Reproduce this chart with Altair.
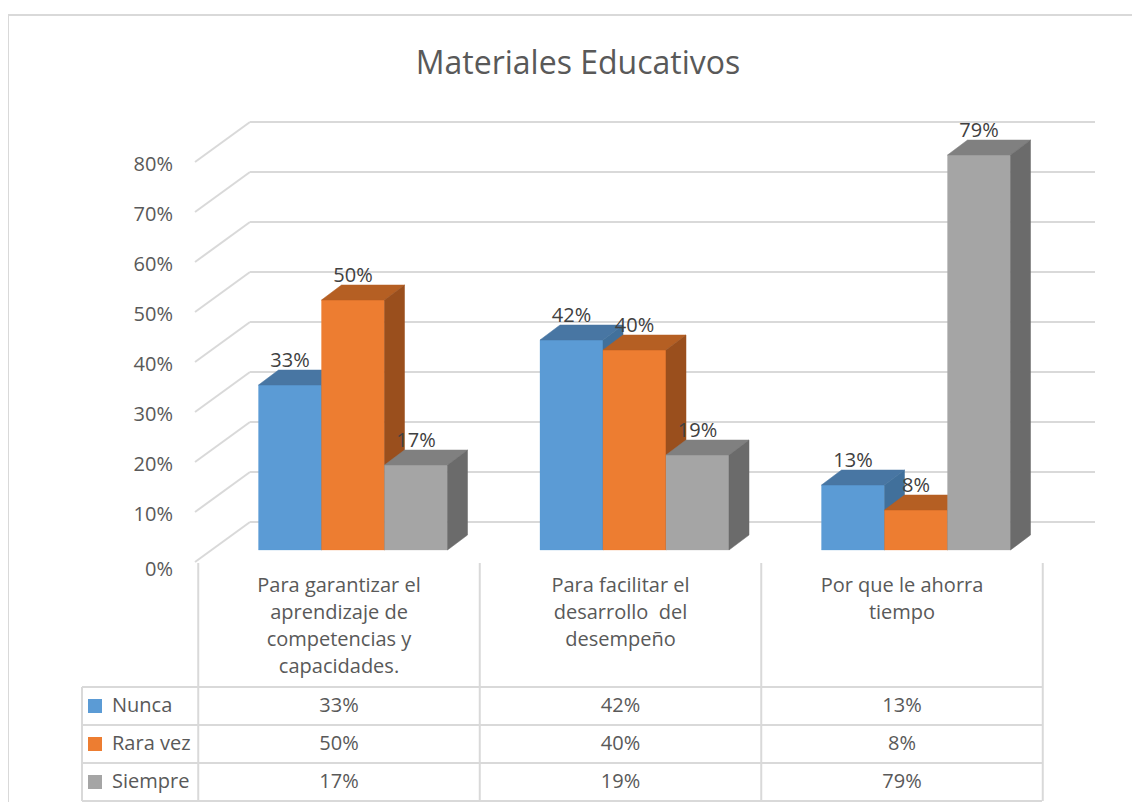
import altair as alt
import pandas as pd

# ---------------- data ----------------
SERIES = ["Nunca", "Rara vez", "Siempre"]
CATEGORIES = [
    "Para garantizar el\naprendizaje de\ncompetencias y\ncapacidades.",
    "Para facilitar el\ndesarrollo\u00a0 del\ndesempeño",
    "Por que le ahorra\ntiempo",
]
NUNCA = [0.33, 0.42, 0.13]
RARA_VEZ = [0.50, 0.40, 0.08]
SIEMPRE = [0.17, 0.19, 0.79]
TICKS = [0.0, 0.1, 0.2, 0.3, 0.4, 0.5, 0.6, 0.7, 0.8]
TITLE = "Materiales Educativos"

VALUES = [NUNCA, RARA_VEZ, SIEMPRE]

# ---------------- styling / geometry ----------------
FRONT = ["#5B9BD5", "#ED7D31", "#A5A5A5"]
TOP = ["#4876A3", "#B55F23", "#808080"]
SIDE = ["#41709B", "#9A4F1D", "#6B6B6B"]
GRID = "#D9D9D9"
TXT = "#595959"
LBL = "#404040"
FONT = "Open Sans"

W, H = 1124, 794
GROUP_PX = 281.5          # pixels per category
PCT_PX = 500.0            # pixels per 100 %
X0_PX = 345               # pixel of first group centre
Y0_PX = 542               # pixel of 0 % on the bar front plane
XS = alt.Scale(domain=[-X0_PX / GROUP_PX, (W - X0_PX) / GROUP_PX], nice=False, zero=False)
YS = alt.Scale(domain=[-(H - Y0_PX) / PCT_PX, Y0_PX / PCT_PX], nice=False, zero=False)
BAR_W = 63 / GROUP_PX
DEPTH_X = 20 / GROUP_PX
DEPTH_Y = 15 / PCT_PX

def X(f):
    return alt.X(f, type="quantitative", scale=XS, axis=None)

def Y(f):
    return alt.Y(f, type="quantitative", scale=YS, axis=None)

# ---------------- tables ----------------
front_rows, top_rows, side_rows, lab_rows = [], [], [], []
for gi in range(len(CATEGORIES)):
    for si, s in enumerate(SERIES):
        v = VALUES[si][gi]
        x0 = gi + (si - 1.5) * BAR_W
        x1 = x0 + BAR_W
        bid = f"{gi}-{si}"
        front_rows.append(dict(s=s, bar=bid, x0=x0, x1=x1, v=v, base=0.0))
        top_rows += [
            dict(s=s, bar=bid, ya=v, xa=x0, xb=x1),
            dict(s=s, bar=bid, ya=v + DEPTH_Y, xa=x0 + DEPTH_X, xb=x1 + DEPTH_X),
        ]
        side_rows += [
            dict(s=s, bar=bid, xa=x1, ya=v, yb=0.0),
            dict(s=s, bar=bid, xa=x1 + DEPTH_X, ya=v + DEPTH_Y, yb=DEPTH_Y),
        ]
        lab_rows.append(dict(s=s, xc=(x0 + x1) / 2, v=v, t=f"{round(v*100)}%"))

front_df = pd.DataFrame(front_rows)
top_df = pd.DataFrame(top_rows)
side_df = pd.DataFrame(side_rows)
lab_df = pd.DataFrame(lab_rows)
tick_df = pd.DataFrame({"t": TICKS, "lab": [f"{round(t*100)}%" for t in TICKS]})
cat_df = pd.DataFrame({"gi": list(range(len(CATEGORIES))), "cat": CATEGORIES})
bound_df = pd.DataFrame({"b": [i - 0.5 for i in range(len(CATEGORIES) + 1)]})
one = pd.DataFrame({"a": [0]})

layers = []

# outer border
layers.append(alt.Chart(one).mark_rule(color=GRID, strokeWidth=2).encode(
    x=alt.value(0), y=alt.value(7), y2=alt.value(H)))
layers.append(alt.Chart(one).mark_rule(color=GRID, strokeWidth=2).encode(
    x=alt.value(0), x2=alt.value(W), y=alt.value(7)))

# title
layers.append(alt.Chart(one).mark_text(
    text=TITLE, font=FONT, fontSize=32, color=TXT, align="center", baseline="middle"
).encode(x=alt.value(570), y=alt.value(56)))

# back wall grid lines
layers.append(alt.Chart(tick_df).mark_rule(color=GRID, strokeWidth=2, yOffset=-28).encode(
    x=alt.value(242), x2=alt.value(1087), y=Y("t")))
# side wall lines
layers.append(alt.Chart(tick_df).mark_rule(color=GRID, strokeWidth=2, yOffset=12, y2Offset=-28).encode(
    x=alt.value(187), x2=alt.value(242), y=Y("t"), y2=alt.Y2("t")))
# y labels (the 0 % label sits a little lower, as in the reference)
layers.append(alt.Chart(tick_df[tick_df.t > 0]).mark_text(
    font=FONT, fontSize=20, color=TXT, align="right", baseline="middle", dy=15
).encode(x=alt.value(165), y=Y("t"), text="lab:N"))
layers.append(alt.Chart(tick_df[tick_df.t == 0]).mark_text(
    font=FONT, fontSize=20, color=TXT, align="right", baseline="middle", dy=20
).encode(x=alt.value(165), y=Y("t"), text="lab:N"))

# 3D bars, series by series: front, top, side
for si, s in enumerate(SERIES):
    layers.append(alt.Chart(front_df[front_df.s == s]).mark_bar(
        color=FRONT[si], opacity=1, stroke=FRONT[si], strokeWidth=0.3
    ).encode(x=X("x0"), x2=alt.X2("x1"), y=Y("v"), y2=alt.Y2("base")))
    layers.append(alt.Chart(top_df[top_df.s == s]).mark_area(
        orient="horizontal", color=TOP[si], opacity=1, stroke=TOP[si], strokeWidth=0.5
    ).encode(y=Y("ya"), x=X("xa"), x2=alt.X2("xb"), detail="bar:N"))
    layers.append(alt.Chart(side_df[side_df.s == s]).mark_area(
        orient="vertical", color=SIDE[si], opacity=1, stroke=SIDE[si], strokeWidth=0.5
    ).encode(x=X("xa"), y=Y("ya"), y2=alt.Y2("yb"), detail="bar:N"))

# data labels
layers.append(alt.Chart(lab_df).mark_text(
    font=FONT, fontSize=20, color=LBL, align="center", baseline="middle", dy=-24
).encode(x=X("xc"), y=Y("v"), text="t:N"))

# category labels
layers.append(alt.Chart(cat_df).mark_text(
    font=FONT, fontSize=20, color=TXT, align="center", baseline="alphabetic",
    lineBreak="\n", lineHeight=27, dx=-14
).encode(x=X("gi"), y=alt.value(584), text="cat:N"))

# table structure
ROW_TOP = [679, 717, 755, 793]
for yy in ROW_TOP:
    layers.append(alt.Chart(one).mark_rule(color=GRID, strokeWidth=2).encode(
        x=alt.value(74), x2=alt.value(1034), y=alt.value(yy)))
layers.append(alt.Chart(one).mark_rule(color=GRID, strokeWidth=2).encode(
    x=alt.value(74), y=alt.value(679), y2=alt.value(793)))
layers.append(alt.Chart(bound_df).mark_rule(color=GRID, strokeWidth=2, xOffset=-14).encode(
    x=X("b"), y=alt.value(555), y2=alt.value(793)))

# table rows
for si, s in enumerate(SERIES):
    yc = (ROW_TOP[si] + ROW_TOP[si + 1]) / 2
    layers.append(alt.Chart(one).mark_square(size=196, color=FRONT[si], opacity=1, filled=True).encode(
        x=alt.value(87), y=alt.value(yc)))
    layers.append(alt.Chart(one).mark_text(
        text=s, font=FONT, fontSize=20, color=TXT, align="left", baseline="middle"
    ).encode(x=alt.value(104), y=alt.value(yc)))
    row_df = pd.DataFrame({"gi": list(range(len(CATEGORIES))),
                           "t": [f"{round(v*100)}%" for v in VALUES[si]]})
    layers.append(alt.Chart(row_df).mark_text(
        font=FONT, fontSize=20, color=TXT, align="center", baseline="middle", dx=-14
    ).encode(x=X("gi"), y=alt.value(yc), text="t:N"))

chart = alt.layer(*layers).properties(
    width=W, height=H,
    autosize=alt.AutoSizeParams(type="none"),
    padding=0,
    background="white",
).configure_view(stroke=None)

chart.save("out.html", embed_options={"renderer": "svg", "actions": False})
